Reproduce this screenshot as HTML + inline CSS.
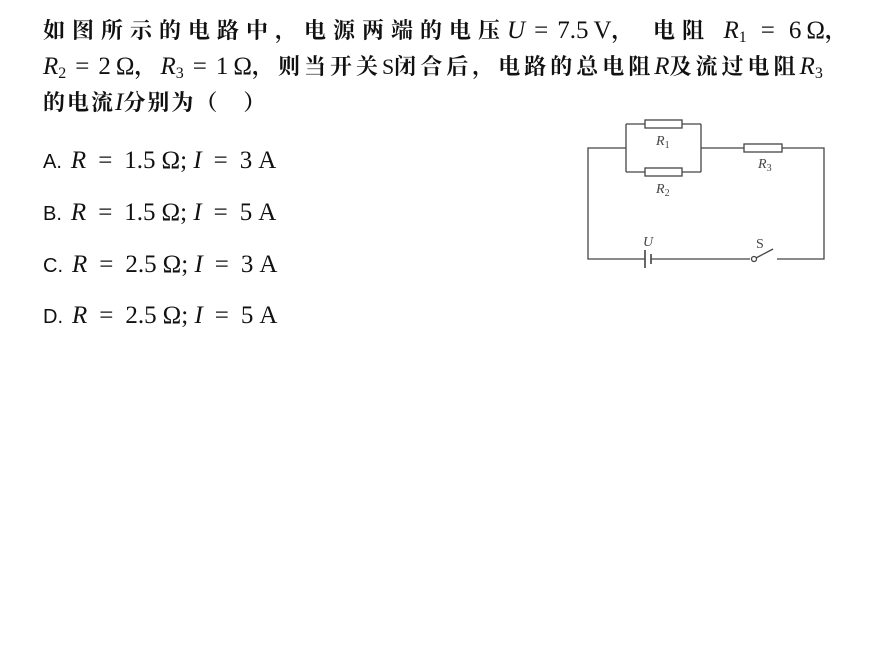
<!DOCTYPE html>
<html><head><meta charset="utf-8"><style>
body{margin:0;width:891px;height:665px;background:#fff;position:relative;overflow:hidden;font-family:"Liberation Serif","Noto Serif CJK SC",serif;color:#111}
.l{position:absolute;left:43px;font-size:22px;font-weight:bold;white-space:nowrap;line-height:1}
.m{font-weight:normal;font-family:"Liberation Serif",serif;font-size:25px;letter-spacing:0}
.e{margin:0 9px}
.s{margin-left:5px}
i{font-family:"Liberation Serif",serif;font-weight:normal}
.o{position:absolute;left:43px;font-size:25px;white-space:nowrap;line-height:1;font-family:"Liberation Serif",serif}
.o .e{margin:0 12px}
.o .s{margin-left:6px}
.o b{font-family:"Liberation Sans",sans-serif;font-weight:normal;font-size:20px;margin-right:9px}
sub{font-size:16px;vertical-align:-4px}
</style></head><body>
<div class="l" style="top:18px;letter-spacing:7px">如图所示的电路中，电源两端的电压<span class="m"><i>U</i><span class="e">=</span>7.5<span class="s">V</span></span>，&nbsp;电阻&nbsp;<span class="m"><i>R</i><sub>1</sub><span class="e" style="margin:0 14px">=</span>6<span class="s">Ω</span></span>，</div>
<div class="l" style="top:54px;letter-spacing:4px"><span class="m"><i>R</i><sub>2</sub><span class="e">=</span>2<span class="s">Ω</span></span>，<span class="m"><i>R</i><sub>3</sub><span class="e">=</span>1<span class="s">Ω</span></span>，则当开关<span class="m" style="font-size:22px">S</span>闭合后，电路的总电阻<span class="m"><i>R</i></span>及流过电阻<span class="m"><i>R</i><sub>3</sub></span></div>
<div class="l" style="top:90px;letter-spacing:2px">的电流<span class="m"><i>I</i></span>分别为（　）</div>
<div class="o" style="top:148px"><b>A.</b><i>R</i><span class="e">=</span>1.5<span class="s">Ω</span>; <i>I</i><span class="e">=</span>3<span class="s">A</span></div>
<div class="o" style="top:200px"><b>B.</b><i>R</i><span class="e">=</span>1.5<span class="s">Ω</span>; <i>I</i><span class="e">=</span>5<span class="s">A</span></div>
<div class="o" style="top:252px"><b>C.</b><i>R</i><span class="e">=</span>2.5<span class="s">Ω</span>; <i>I</i><span class="e">=</span>3<span class="s">A</span></div>
<div class="o" style="top:303px"><b>D.</b><i>R</i><span class="e">=</span>2.5<span class="s">Ω</span>; <i>I</i><span class="e">=</span>5<span class="s">A</span></div>
<svg width="891" height="665" style="position:absolute;left:0;top:0" fill="none" stroke="#444" stroke-width="1.3">
<path d="M626 148H588V259H645M651 259H750M777 259H824V148H782M744 148H701M626 124V172M701 124V172M626 124H645M682 124H701M626 172H645M682 172H701"/>
<rect x="645" y="120" width="37" height="8" fill="#fff"/>
<rect x="645" y="168" width="37" height="8" fill="#fff"/>
<rect x="744" y="144" width="38" height="8" fill="#fff"/>
<path d="M645 250V268M651 254V264" stroke-width="1.6"/>
<circle cx="754" cy="259" r="2.5" fill="#fff"/>
<path d="M756 258L773 249"/>
<g fill="#444" stroke="none" font-family="Liberation Serif,serif" font-size="14" font-style="italic">
<text x="656" y="145">R<tspan font-size="10" dy="3" font-style="normal">1</tspan></text>
<text x="656" y="193">R<tspan font-size="10" dy="3" font-style="normal">2</tspan></text>
<text x="758" y="168">R<tspan font-size="10" dy="3" font-style="normal">3</tspan></text>
<text x="643" y="246">U</text>
<text x="756" y="248" font-style="normal">S</text>
</g>
</svg>
</body></html>
